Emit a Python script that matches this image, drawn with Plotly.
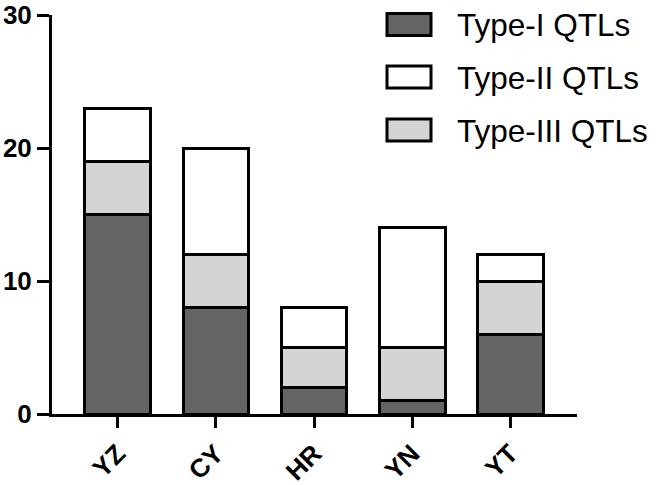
import plotly.graph_objects as go

categories = ["YZ", "CY", "HR", "YN", "YT"]
type_i = [15, 8, 2, 1, 6]
type_iii = [4, 4, 3, 4, 4]
type_ii = [4, 8, 3, 9, 2]
series_names = ["Type-I QTLs", "Type-II QTLs", "Type-III QTLs"]
y_ticks = [0, 10, 20, 30]

colors = {"Type-I QTLs": "#646464", "Type-II QTLs": "#ffffff", "Type-III QTLs": "#d4d4d4"}

fig = go.Figure()
for name, vals in [("Type-I QTLs", type_i), ("Type-III QTLs", type_iii), ("Type-II QTLs", type_ii)]:
    fig.add_trace(go.Bar(x=categories, y=vals, name=name, width=0.67,
                         marker=dict(color=colors[name], line=dict(color="black", width=3)),
                         showlegend=False))

# legend drawn manually
L, R, T, B = 52, 84, 15, 71
W, H = 661 - L - R, 485 - T - B
def px(x): return (x - L) / W
def py(y): return (485 - B - y) / H
centers = [24.5, 77, 130]
for name, cy in zip(series_names, centers):
    fig.add_shape(type="rect", xref="paper", yref="paper",
                  x0=px(387), x1=px(431), y0=py(cy + 11), y1=py(cy - 11),
                  fillcolor=colors[name], line=dict(color="black", width=3))
    fig.add_annotation(xref="paper", yref="paper", x=px(455), y=py(cy + 1), text=name,
                       showarrow=False, xanchor="left", yanchor="middle",
                       font=dict(family="Arial, Liberation Sans", size=31.5, color="black"))

fig.update_layout(
    barmode="stack",
    width=661, height=485,
    margin=dict(l=L, r=R, t=T, b=B, autoexpand=False),
    plot_bgcolor="white", paper_bgcolor="white",
    font=dict(family="Arial, Liberation Sans", color="black"),
    xaxis=dict(range=[-0.67, 4.68], showline=True, linecolor="black", linewidth=3,
               ticks="outside", ticklen=11, tickwidth=3, tickcolor="black",
               tickangle=-45, tickfont=dict(size=26, weight="bold"), automargin=False,
               showgrid=False, zeroline=False),
    yaxis=dict(range=[0, 30], tickvals=y_ticks, showline=True, linecolor="black", linewidth=3,
               ticks="outside", ticklen=12, tickwidth=3, tickcolor="black", automargin=False,
               tickfont=dict(size=26, weight="bold"), showgrid=False, zeroline=False),
)
fig.write_html("out.html", config={"displayModeBar": False},
               post_script="document.body.style.margin='0';")
